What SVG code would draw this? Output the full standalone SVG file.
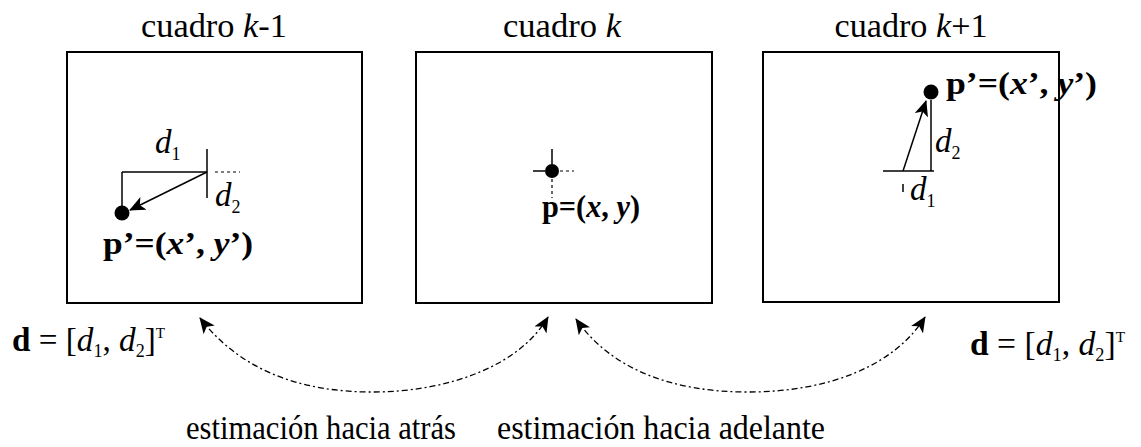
<svg xmlns="http://www.w3.org/2000/svg" width="1141" height="447" viewBox="0 0 1141 447">
<defs>
<style>
text{font-family:'Liberation Serif','Times New Roman','DejaVu Serif',serif;fill:#000}
.t{font-size:33px}
.s{font-size:31px}
.b{font-weight:bold}
.i{font-style:italic}
.frame{fill:none;stroke:#000;stroke-width:2}
.ln{stroke:#000;stroke-width:1.5;fill:none}
.dot{stroke:#000;stroke-width:1.2;fill:none;stroke-dasharray:3 3}
.curve{stroke:#000;stroke-width:1.3;fill:none;stroke-dasharray:6 3 2 3}
</style>
<marker id="ah" viewBox="0 0 16 14" refX="15" refY="7" markerWidth="16" markerHeight="14" markerUnits="userSpaceOnUse" orient="auto-start-reverse">
<path d="M0,0 L16,7 L0,14 L4,7 Z" fill="#000"/>
</marker>
</defs>

<g id="frame-k-1" font-family="Liberation Serif, Times New Roman, serif">
<text class="t" x="214" y="37" text-anchor="middle" textLength="146" lengthAdjust="spacingAndGlyphs">cuadro <tspan class="i">k</tspan>-1</text>
<rect class="frame" x="67" y="52" width="295" height="251"/>
<line class="ln" x1="122" y1="172" x2="207" y2="172"/>
<line class="ln" x1="122" y1="172" x2="122" y2="210"/>
<line class="ln" x1="207" y1="149" x2="207" y2="198"/>
<line class="dot" x1="215" y1="172" x2="240" y2="172"/>
<line class="ln" x1="207" y1="172" x2="130" y2="210" stroke-width="2.5" marker-end="url(#ah)"/>
<circle cx="122" cy="213" r="7.5" fill="#000"/>
<text class="t i" x="155" y="153">d<tspan font-size="18" dy="7" font-style="normal">1</tspan></text>
<text class="t i" x="215" y="206">d<tspan font-size="18" dy="7" font-style="normal">2</tspan></text>
<text class="s b" x="103" y="254" textLength="150" lengthAdjust="spacingAndGlyphs">p’=(<tspan class="i">x</tspan>’, <tspan class="i">y</tspan>’)</text>
</g>

<g id="frame-k">
<text class="t" x="562" y="37" text-anchor="middle" textLength="118" lengthAdjust="spacingAndGlyphs">cuadro <tspan class="i">k</tspan></text>
<rect class="frame" x="416" y="52" width="296" height="251"/>
<line class="ln" x1="552" y1="149" x2="552" y2="164"/>
<line class="dot" x1="552" y1="179" x2="552" y2="198"/>
<line class="ln" x1="533" y1="171" x2="545" y2="171"/>
<line class="dot" x1="560" y1="171" x2="574" y2="171"/>
<circle cx="552" cy="171" r="7" fill="#000"/>
<text class="s b" x="542" y="217" textLength="98" lengthAdjust="spacingAndGlyphs">p=(<tspan class="i">x</tspan>, <tspan class="i">y</tspan>)</text>
</g>

<g id="frame-k+1">
<text class="t" x="911" y="37" text-anchor="middle" textLength="153" lengthAdjust="spacingAndGlyphs">cuadro <tspan class="i">k</tspan>+1</text>
<rect class="frame" x="763" y="52" width="296" height="250"/>
<line class="ln" x1="883" y1="171" x2="934" y2="171"/>
<line class="ln" x1="931" y1="100" x2="931" y2="171"/>
<line class="ln" x1="903" y1="184" x2="903" y2="192"/>
<line class="ln" x1="903" y1="171" x2="926" y2="101" stroke-width="2.2" marker-end="url(#ah)"/>
<circle cx="931" cy="92" r="7.5" fill="#000"/>
<text class="t i" x="935" y="152">d<tspan font-size="18" dy="7" font-style="normal">2</tspan></text>
<text class="t i" x="910" y="200">d<tspan font-size="18" dy="7" font-style="normal">1</tspan></text>
<text class="s b" x="946" y="94" textLength="151" lengthAdjust="spacingAndGlyphs">p’=(<tspan class="i">x</tspan>’, <tspan class="i">y</tspan>’)</text>
</g>

<g id="vector-left">
<text class="t" x="12" y="351" textLength="153" lengthAdjust="spacingAndGlyphs"><tspan class="b">d</tspan> = [<tspan class="i">d</tspan><tspan font-size="18" dy="6">1</tspan><tspan dy="-6">, </tspan><tspan class="i">d</tspan><tspan font-size="18" dy="6">2</tspan><tspan dy="-6">]</tspan><tspan font-size="15" dy="-13">T</tspan></text>
</g>
<g id="vector-right">
<text class="t" x="970" y="355" textLength="155" lengthAdjust="spacingAndGlyphs"><tspan class="b">d</tspan> = [<tspan class="i">d</tspan><tspan font-size="18" dy="6">1</tspan><tspan dy="-6">, </tspan><tspan class="i">d</tspan><tspan font-size="18" dy="6">2</tspan><tspan dy="-6">]</tspan><tspan font-size="15" dy="-13">T</tspan></text>
</g>

<g id="connectors">
<path class="curve" d="M200,318 C240,370 300,392 372,392 C450,392 520,365 548,317" marker-start="url(#ah)" marker-end="url(#ah)"/>
<path class="curve" d="M576,319 C610,368 670,392 748,392 C830,392 895,365 925,317" marker-start="url(#ah)" marker-end="url(#ah)"/>
</g>

<g id="labels">
<text class="t" x="186" y="439" textLength="270" lengthAdjust="spacingAndGlyphs">estimación hacia atrás</text>
<text class="t" x="497" y="439" textLength="328" lengthAdjust="spacingAndGlyphs">estimación hacia adelante</text>
</g>
</svg>
